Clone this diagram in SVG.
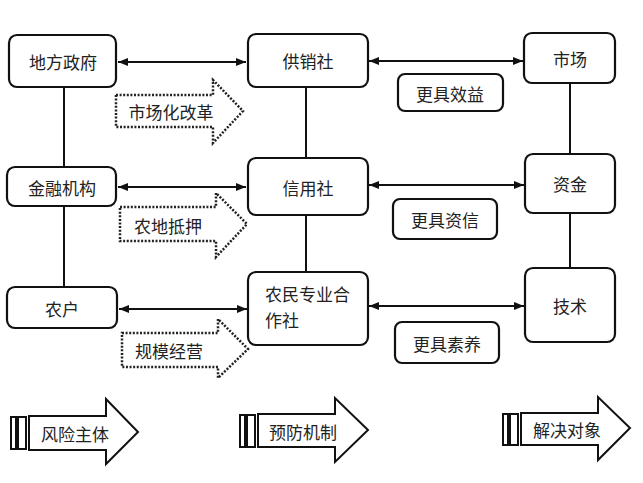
<svg xmlns="http://www.w3.org/2000/svg" width="643" height="483" viewBox="0 0 643 483">
<defs>
<style>
.box{fill:#fff;stroke:#111;stroke-width:2.2}
.t{font-family:"Noto Sans CJK SC","Noto Sans",sans-serif;font-size:17px;fill:#222;text-anchor:middle;dominant-baseline:central}
.tl{font-family:"Noto Sans CJK SC","Noto Sans",sans-serif;font-size:17px;fill:#222}
.ln{stroke:#111;stroke-width:2;fill:none}
.da{fill:#fff;stroke:#222;stroke-width:2.5;stroke-dasharray:2 1.6}
.bar{fill:#fff;stroke:#111;stroke-width:2}
</style>
<marker id="ah" viewBox="0 0 10 8" refX="10" refY="4" markerWidth="10" markerHeight="8" markerUnits="userSpaceOnUse" orient="auto-start-reverse">
<path d="M0,0 L10,4 L0,8 z" fill="#111"/>
</marker>
</defs>
<rect width="643" height="483" fill="#fff"/>
<g id="connectors">
<line class="ln" x1="64" y1="87" x2="64" y2="167"/>
<line class="ln" x1="64" y1="206" x2="64" y2="287"/>
<line class="ln" x1="306" y1="87" x2="306" y2="158"/>
<line class="ln" x1="306" y1="215" x2="306" y2="272"/>
<line class="ln" x1="570" y1="83" x2="570" y2="154"/>
<line class="ln" x1="570" y1="213" x2="570" y2="268"/>
<line class="ln" x1="118" y1="62" x2="246" y2="62" marker-start="url(#ah)" marker-end="url(#ah)"/>
<line class="ln" x1="369" y1="61" x2="523" y2="61" marker-start="url(#ah)" marker-end="url(#ah)"/>
<line class="ln" x1="118" y1="187" x2="246" y2="187" marker-start="url(#ah)" marker-end="url(#ah)"/>
<line class="ln" x1="369" y1="185" x2="524" y2="185" marker-start="url(#ah)" marker-end="url(#ah)"/>
<line class="ln" x1="119" y1="309" x2="247" y2="309" marker-start="url(#ah)" marker-end="url(#ah)"/>
<line class="ln" x1="369" y1="306" x2="524" y2="306" marker-start="url(#ah)" marker-end="url(#ah)"/>
</g>
<g id="n-difangzhengfu"><rect class="box" x="9" y="35" width="107" height="52" rx="8"/><text class="t" x="63" y="61">地方政府</text></g>
<g id="n-gongxiaoshe"><rect class="box" x="248" y="34" width="120" height="53" rx="8"/><text class="t" x="308" y="60">供销社</text></g>
<g id="n-shichang"><rect class="box" x="524" y="33" width="91" height="50" rx="8"/><text class="t" x="570" y="58">市场</text></g>
<g id="n-jinrong"><rect class="box" x="7" y="167" width="109" height="39" rx="8"/><text class="t" x="62" y="187">金融机构</text></g>
<g id="n-xinyongshe"><rect class="box" x="248" y="158" width="120" height="57" rx="8"/><text class="t" x="308" y="187">信用社</text></g>
<g id="n-zijin"><rect class="box" x="525" y="154" width="90" height="59" rx="8"/><text class="t" x="570" y="183">资金</text></g>
<g id="n-nonghu"><rect class="box" x="7" y="287" width="110" height="41" rx="8"/><text class="t" x="62" y="308">农户</text></g>
<g id="n-hezuoshe"><rect class="box" x="248" y="272" width="120" height="73" rx="8"/><text class="tl" x="265" y="301">农民专业合</text><text class="tl" x="265" y="327">作社</text></g>
<g id="n-jishu"><rect class="box" x="525" y="268" width="90" height="74" rx="8"/><text class="t" x="570" y="305">技术</text></g>
<g id="n-xiaoyi"><rect class="box" x="398" y="74" width="105" height="37" rx="7"/><text class="t" x="450" y="93">更具效益</text></g>
<g id="n-zixin"><rect class="box" x="393" y="199" width="104" height="40" rx="7"/><text class="t" x="445" y="219">更具资信</text></g>
<g id="n-suyang"><rect class="box" x="395" y="322" width="104" height="41" rx="7"/><text class="t" x="447" y="343">更具素养</text></g>
<g id="d-shichanghua"><path class="da" d="M116,95 L213,95 L213,80 L243,111 L213,143 L213,127 L116,127 Z"/><text class="t" x="171" y="111">市场化改革</text></g>
<g id="d-nongdi"><path class="da" d="M120,207 L216,207 L216,193 L247,224 L216,257 L216,241 L120,241 Z"/><text class="t" x="168" y="225">农地抵押</text></g>
<g id="d-guimo"><path class="da" d="M122,333 L218,333 L218,319 L248,349 L218,378 L218,367 L122,367 Z"/><text class="t" x="169" y="350">规模经营</text></g>
<g id="b-fengxian"><rect class="bar" x="11" y="417" width="5" height="32"/><rect class="bar" x="18" y="417" width="8" height="32"/><path class="bar" d="M29,416 L106,416 L106,399 L138,432 L106,464 L106,450 L29,450 Z"/><text class="t" x="75" y="433">风险主体</text></g>
<g id="b-yufang"><rect class="bar" x="240" y="415" width="5" height="32"/><rect class="bar" x="247" y="415" width="8" height="32"/><path class="bar" d="M258,414 L335,414 L335,398 L368,430 L335,462 L335,447 L258,447 Z"/><text class="t" x="303" y="431">预防机制</text></g>
<g id="b-jiejue"><rect class="bar" x="503" y="414" width="5" height="31"/><rect class="bar" x="510" y="414" width="8" height="31"/><path class="bar" d="M521,413 L598,413 L598,397 L630,428 L598,460 L598,445 L521,445 Z"/><text class="t" x="567" y="429">解决对象</text></g>
</svg>
